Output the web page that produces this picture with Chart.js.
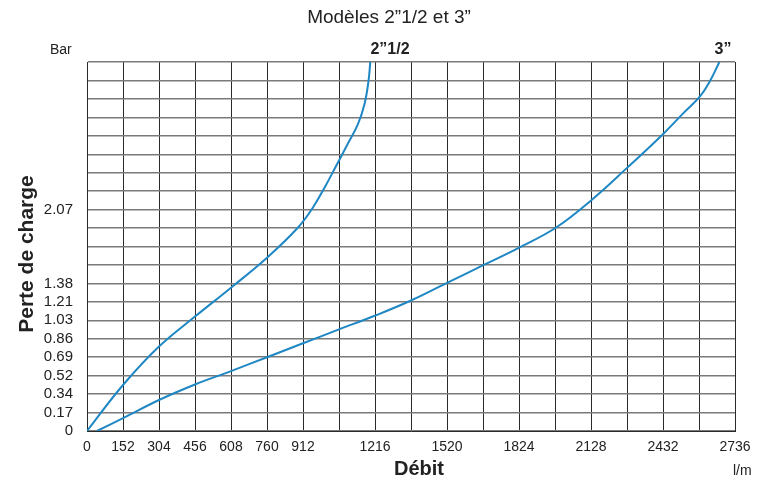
<!DOCTYPE html>
<html>
<head>
    <title>Modèles 2"1/2 et 3"</title>
    <script src="https://cdn.jsdelivr.net/npm/chart.js@4.4.1/dist/chart.umd.min.js"></script>
    <style>
        body { margin: 0; background: #fff; }
        #wrap { width: 762px; height: 482px; }
    </style>
</head>
<body>
<div id="wrap"><canvas id="stage" width="762" height="482"></canvas></div>
<script>
    // courbes (débit l/m, perte de charge bar)
    var debit_2p5 = [0, 152, 304, 456, 608, 760, 890, 954, 1004, 1050, 1095, 1144, 1172, 1189, 1196];
    var perte_2p5 = [0, 0.43, 0.79, 1.07, 1.34, 1.62, 1.90, 2.09, 2.28, 2.47, 2.66, 2.87, 3.06, 3.28, 3.45];

    var debit_3 = [42, 152, 304, 456, 608, 760, 912, 1064, 1218, 1368, 1520, 1673, 1825, 1979, 2133, 2280, 2434, 2513, 2589, 2630, 2670];
    var perte_3 = [0, 0.12, 0.29, 0.435, 0.56, 0.69, 0.82, 0.95, 1.08, 1.22, 1.385, 1.55, 1.715, 1.90, 2.165, 2.46, 2.78, 2.96, 3.13, 3.27, 3.45];

    // graduations
    var xTicks = [0, 152, 304, 456, 608, 760, 912, 1064, 1216, 1368, 1520, 1672, 1824, 1976, 2128, 2280, 2432, 2584, 2736];
    var xTickLabels = ['0', '152', '304', '456', '608', '760', '912', '', '1216', '', '1520', '', '1824', '', '2128', '', '2432', '', '2736'];
    var yTicks = [0, 0.1725, 0.345, 0.5175, 0.69, 0.8625, 1.035, 1.2075, 1.38, 1.5525, 1.725, 1.8975, 2.07,
                  2.2425, 2.415, 2.5875, 2.76, 2.9325, 3.105, 3.2775, 3.45];
    var yTickLabels = ['0', '0.17', '0.34', '0.52', '0.69', '0.86', '1.03', '1.21', '1.38', '', '', '', '2.07',
                       '', '', '', '', '', '', '', ''];

    function toPoints(xs, ys) {
        var pts = [];
        for (var i = 0; i < xs.length; i++) pts.push({x: xs[i], y: ys[i]});
        return pts;
    }

    var FONT = '"Liberation Sans", Arial, sans-serif';

    // textes hors axes
    var labelsPlugin = {
        id: 'labels',
        afterDraw: function (chart) {
            var ctx = chart.ctx;
            ctx.save();
            ctx.fillStyle = '#222';
            ctx.textBaseline = 'middle';

            ctx.textAlign = 'center';
            ctx.font = '19px ' + FONT;
            ctx.fillText('Modèles 2”1/2 et 3”', 389, 18);

            ctx.font = '14px ' + FONT;
            ctx.textAlign = 'left';
            ctx.fillText('Bar', 50, 50);
            ctx.fillText('l/m', 733, 471);

            ctx.font = 'bold 16px ' + FONT;
            ctx.textAlign = 'center';
            ctx.fillText('2”1/2', 390, 50);
            ctx.fillText('3”', 723, 50);

            ctx.font = 'bold 20px ' + FONT;
            ctx.fillText('Débit', 419, 469);

            ctx.font = 'bold 21px ' + FONT;
            ctx.translate(27, 254);
            ctx.rotate(-Math.PI / 2);
            ctx.fillText('Perte de charge', 0, 0);
            ctx.restore();
        }
    };

    var canvas = document.getElementById('stage');
    var chart = new Chart(canvas, {
        type: 'line',
        data: {
            datasets: [
                {
                    label: '2"1/2',
                    data: toPoints(debit_2p5, perte_2p5),
                    borderColor: '#1f87c3',
                    borderWidth: 2,
                    pointRadius: 0,
                    tension: 0.4,
                    fill: false
                },
                {
                    label: '3"',
                    data: toPoints(debit_3, perte_3),
                    borderColor: '#1f87c3',
                    borderWidth: 2,
                    pointRadius: 0,
                    tension: 0.4,
                    fill: false
                }
            ]
        },
        options: {
            responsive: false,
            animation: false,
            layout: { padding: { left: 0, top: 62, right: 27, bottom: 0 } },
            plugins: {
                legend: { display: false },
                tooltip: { enabled: false }
            },
            scales: {
                x: {
                    type: 'linear',
                    min: 0,
                    max: 2736,
                    afterFit: function (scale) { scale.height = 51; },
                    afterBuildTicks: function (scale) {
                        scale.ticks = xTicks.map(function (v) { return {value: v}; });
                    },
                    ticks: {
                        autoSkip: false,
                        maxRotation: 0,
                        padding: 8,
                        color: '#222',
                        font: { family: FONT, size: 14 },
                        callback: function (value, index) { return xTickLabels[index]; }
                    },
                    grid: { color: '#2a2a2a', lineWidth: 1, drawTicks: false },
                    border: { color: '#2a2a2a', width: 1 }
                },
                y: {
                    type: 'linear',
                    min: 0,
                    max: 3.45,
                    afterFit: function (scale) { scale.width = 87; },
                    afterBuildTicks: function (scale) {
                        scale.ticks = yTicks.map(function (v) { return {value: v}; });
                    },
                    ticks: {
                        autoSkip: false,
                        padding: 14,
                        color: '#222',
                        font: { family: FONT, size: 15 },
                        callback: function (value, index) { return yTickLabels[index]; }
                    },
                    grid: { color: '#7a7a7a', lineWidth: 1.5, drawTicks: false },
                    border: { color: '#2a2a2a', width: 1 }
                }
            }
        },
        plugins: [labelsPlugin]
    });
</script>
</body>
</html>
